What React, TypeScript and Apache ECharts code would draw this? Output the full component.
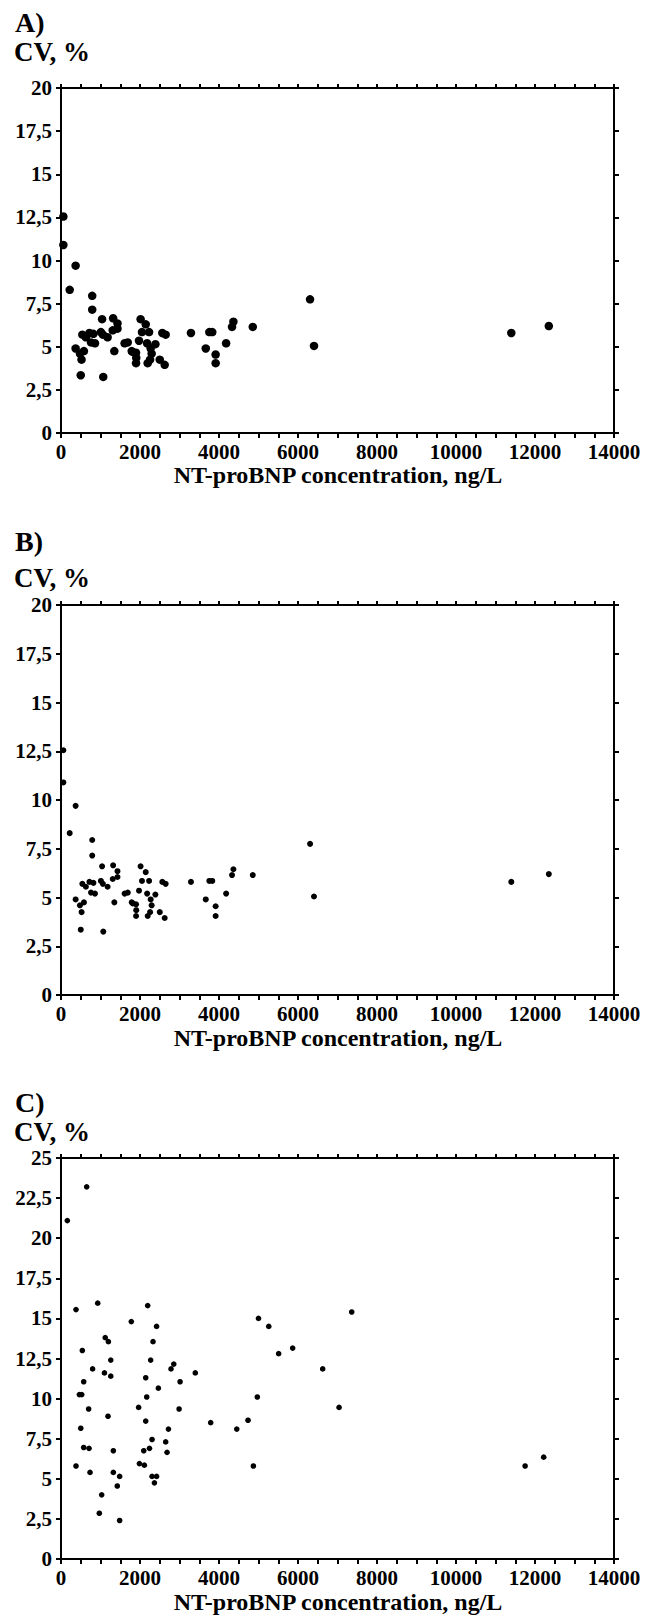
import React, { useEffect, useRef } from "react";
import * as echarts from "echarts";

// Panels A and B: same measurements (NT-proBNP ng/L, CV %)
const concAB = [60, 60, 370, 220, 790, 790, 1040, 1320, 1430, 1430, 1310, 1180, 1010, 1060, 820, 720, 540, 630, 760, 860, 370, 480, 520, 580, 500, 1070, 1350, 1610, 1690, 1790, 1815, 1900, 1905, 1900, 1975, 2015, 2050, 2145, 2180, 2230, 2195, 2270, 2255, 2295, 2390, 2500, 2565, 2650, 2625, 3290, 3665, 3755, 3830, 3915, 3915, 4180, 4330, 4365, 4855, 6305, 6405, 11400, 12350];
const cvAB = [12.55, 10.9, 9.7, 8.3, 7.95, 7.15, 6.6, 6.65, 6.35, 6.05, 5.95, 5.55, 5.85, 5.7, 5.75, 5.8, 5.7, 5.55, 5.25, 5.2, 4.9, 4.6, 4.25, 4.75, 3.35, 3.25, 4.75, 5.2, 5.25, 4.75, 4.7, 4.65, 4.35, 4.05, 5.35, 6.6, 5.85, 6.3, 5.2, 5.85, 4.05, 4.9, 4.25, 4.6, 5.15, 4.25, 5.8, 5.7, 3.95, 5.8, 4.9, 5.85, 5.85, 4.55, 4.05, 5.2, 6.15, 6.45, 6.15, 7.75, 5.05, 5.8, 6.2];

// Panel C
const concC = [160, 650, 380, 930, 1780, 2195, 2420, 1120, 1200, 540, 1260, 2270, 2330, 800, 1100, 1260, 575, 2145, 2465, 2855, 2785, 3015, 3400, 465, 525, 2170, 700, 1190, 1965, 2990, 2145, 500, 2720, 3790, 4450, 4735, 4970, 5000, 5260, 5510, 5865, 6625, 7040, 7360, 575, 710, 1325, 2305, 2095, 2240, 2650, 2685, 380, 735, 1325, 1985, 2110, 1485, 1425, 2305, 2420, 2365, 1030, 970, 1485, 4870, 11750, 12220];
const cvC = [21.1, 23.2, 15.55, 15.95, 14.8, 15.8, 14.5, 13.8, 13.55, 13.0, 12.4, 12.4, 13.55, 11.85, 11.6, 11.4, 11.05, 11.3, 10.65, 12.15, 11.85, 11.05, 11.6, 10.25, 10.25, 10.1, 9.35, 8.9, 9.45, 9.35, 8.6, 8.15, 8.1, 8.5, 8.1, 8.65, 10.1, 15.0, 14.5, 12.8, 13.15, 11.85, 9.45, 15.4, 6.95, 6.9, 6.75, 7.45, 6.75, 6.9, 7.3, 6.65, 5.8, 5.4, 5.4, 5.95, 5.85, 5.15, 4.55, 5.15, 5.15, 4.75, 4.0, 2.85, 2.4, 5.8, 5.8, 6.35];

const xTicks = [0, 2000, 4000, 6000, 8000, 10000, 12000, 14000];
const yTicksAB = [0, 2.5, 5, 7.5, 10, 12.5, 15, 17.5, 20];
const yTicksC = [0, 2.5, 5, 7.5, 10, 12.5, 15, 17.5, 20, 22.5, 25];

const panelLetters = ["A)", "B)", "C)"];
const yTitle = "CV, %";
const xTitle = "NT-proBNP concentration, ng/L";

const FAMILY = "Liberation Serif";

export default function App() {
  const ref = useRef<HTMLDivElement>(null);

  useEffect(() => {
    if (!ref.current) return;
    const chart = echarts.init(ref.current, undefined, { renderer: "svg" });

    const grids = [
      { left: 61, top: 88, width: 553, height: 345 },
      { left: 61, top: 605, width: 553, height: 390 },
      { left: 61, top: 1158, width: 553, height: 401 },
    ];
    const yMaxes = [yTicksAB[yTicksAB.length - 1], yTicksAB[yTicksAB.length - 1], yTicksC[yTicksC.length - 1]];
    const sizes = [8.5, 6, 5.6];
    const pairsAB = concAB.map((c, i) => [c, cvAB[i]]);
    const pairsC = concC.map((c, i) => [c, cvC[i]]);
    const datas = [pairsAB, pairsAB, pairsC];

    const line = { color: "#000", width: 2 };
    const tStyle = {
      fontSize: 21,
      fontWeight: 700,
      fontFamily: FAMILY,
      color: "#000",
    };
    const xAxis: any[] = [];
    const yAxis: any[] = [];
    const series: any[] = [];
    grids.forEach((g, i) => {
      const baseX = {
        type: "value",
        gridIndex: i,
        min: xTicks[0],
        max: xTicks[xTicks.length - 1],
        interval: xTicks[1] - xTicks[0],
        axisLine: { show: true, onZero: false, lineStyle: line },
        axisTick: { show: true, inside: false, length: 5, lineStyle: line },
        minorTick: { show: true, splitNumber: 4, length: 5, lineStyle: line },
        splitLine: { show: false },
        minorSplitLine: { show: false },
      };
      xAxis.push({
        ...baseX,
        position: "bottom",
        axisLabel: {
          ...tStyle,
          margin: 8,
          formatter: (v: number) => `{t|${String(v)}}`,
          rich: { t: { ...tStyle } },
        },
      });
      xAxis.push({
        ...baseX,
        position: "top",
        axisTick: { show: true, inside: false, length: 4, lineStyle: line },
        minorTick: { show: true, splitNumber: 4, length: 4, lineStyle: line },
        axisLabel: { show: false },
      });
      const baseY = {
        type: "value",
        gridIndex: i,
        min: 0,
        max: yMaxes[i],
        interval: 2.5,
        axisLine: { show: true, onZero: false, lineStyle: line },
        axisTick: { show: true, inside: false, length: 5, lineStyle: line },
        splitLine: { show: false },
      };
      yAxis.push({
        ...baseY,
        position: "left",
        axisLabel: {
          ...tStyle,
          margin: 9,
          formatter: (v: number) => `{t|${String(v).replace(".", ",")}}`,
          rich: { t: { ...tStyle } },
        },
      });
      yAxis.push({
        ...baseY,
        position: "right",
        axisLabel: { show: false },
      });
      series.push({
        type: "scatter",
        xAxisIndex: 2 * i,
        yAxisIndex: 2 * i,
        data: datas[i],
        symbol: "circle",
        symbolSize: sizes[i],
        itemStyle: { color: "#000", opacity: 1 },
      });
    });

    const letterY = [22, 541, 1102];
    const cvY = [52, 578, 1132];
    const titleY = [475, 1038, 1602];
    const graphic: any[] = [];
    for (let i = 0; i < 3; i++) {
      graphic.push({
        type: "text",
        x: 15,
        y: letterY[i],
        style: {
          text: panelLetters[i],
          fontFamily: FAMILY,
          fontWeight: "bold",
          fontSize: 28,
          fill: "#000",
          textAlign: "left",
          textVerticalAlign: "middle",
        },
      });
      graphic.push({
        type: "text",
        x: 14,
        y: cvY[i],
        style: {
          text: yTitle,
          fontFamily: FAMILY,
          fontWeight: "bold",
          fontSize: 27,
          fill: "#000",
          textAlign: "left",
          textVerticalAlign: "middle",
        },
      });
      graphic.push({
        type: "text",
        x: 338,
        y: titleY[i],
        style: {
          text: xTitle,
          fontFamily: FAMILY,
          fontWeight: "bold",
          fontSize: 24,
          fill: "#000",
          textAlign: "center",
          textVerticalAlign: "middle",
        },
      });
    }

    chart.setOption({
      animation: false,
      backgroundColor: "#fff",
      textStyle: { fontFamily: FAMILY, fontWeight: "bold", color: "#000" },
      grid: grids,
      xAxis,
      yAxis,
      series,
      graphic,
    });
    return () => chart.dispose();
  }, []);

  return (
    <div
      ref={ref}
      style={{ position: "absolute", left: 0, top: 0, width: 655, height: 1620 }}
    />
  );
}
